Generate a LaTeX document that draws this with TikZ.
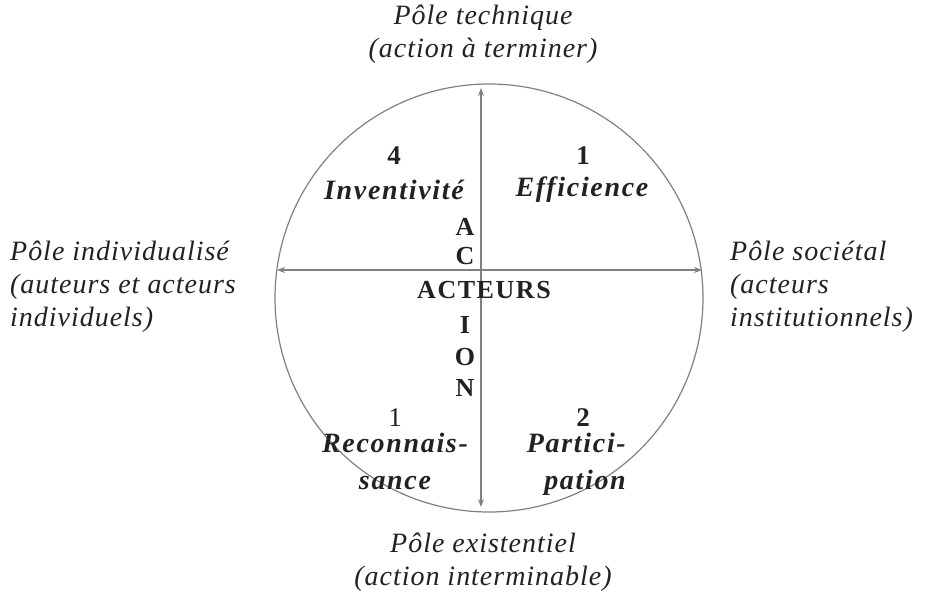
\documentclass[tikz,border=0pt]{standalone}
\usepackage{fontspec}
\setmainfont{Liberation Serif}
\usetikzlibrary{arrows.meta}
\definecolor{txt}{HTML}{222222}
\definecolor{ln}{HTML}{808080}
\begin{document}
\begin{tikzpicture}[x=1pt,y=-1pt,
  pole/.style={font=\fontsize{28}{33}\selectfont\itshape\addfontfeature{LetterSpace=3.5}, text=txt, inner sep=0pt},
  num/.style={font=\fontsize{27}{30}\selectfont\bfseries, text=txt, inner sep=0pt},
  quad/.style={font=\fontsize{28}{40}\selectfont\bfseries\itshape\addfontfeature{LetterSpace=6}, text=txt, inner sep=0pt},
  letter/.style={font=\fontsize{26}{28}\selectfont\bfseries\addfontfeature{LetterSpace=6}, text=txt, inner sep=0pt},
  axis/.style={draw=ln, line width=1.2pt, {Stealth[length=8pt,width=6pt]}-{Stealth[length=8pt,width=6pt]}}
]
\useasboundingbox (0,0) rectangle (926,595);
\node[circle, draw=ln, line width=1.2pt, minimum size=428pt, inner sep=0pt] (c) at (489,298) {};
\coordinate (top) at (481,88);
\coordinate (bot) at (481,507);
\coordinate (lft) at (277,270);
\coordinate (rgt) at (702,270);
\draw[axis] (bot) -- (top);
\draw[axis] (lft) -- (rgt);

\node[pole, align=center] (ptech) at (483,34) {Pôle technique\\(action à terminer)};
\node[pole, align=center] (pexist) at (483,562) {Pôle existentiel\\(action interminable)};
\node[pole, align=left, anchor=west] (pind) at (10,287) {Pôle individualisé\\(auteurs et acteurs\\individuels)};
\node[pole, align=left, anchor=west] (psoc) at (730,287) {Pôle sociétal\\(acteurs\\institutionnels)};

\node[num] (n4) at (394,156) {4};
\node[quad] (inv) at (394,190) {Inventivité};
\node[num] (n1) at (583,156) {1};
\node[quad] (eff) at (582,190) {Efficience};
\node[num, font=\fontsize{27}{30}\selectfont] (n1b) at (395,418) {1};
\node[quad] (rec1) at (395,443) {Reconnais-};
\node[quad] (rec2) at (395,483) {sance};
\node[num] (n2) at (583,418) {2};
\node[quad, anchor=east] (par1) at (626,443) {Partici-};
\node[quad, anchor=east] (par2) at (626,483) {pation};

\node[letter] (lA) at (465,227) {A};
\node[letter] (lC) at (465,256) {C};
\node[letter] (acteurs) at (484,290) {ACTEURS};
\node[letter] (lI) at (465,325) {I};
\node[letter] (lO) at (465,357) {O};
\node[letter] (lN) at (465,388) {N};
\end{tikzpicture}
\end{document}
